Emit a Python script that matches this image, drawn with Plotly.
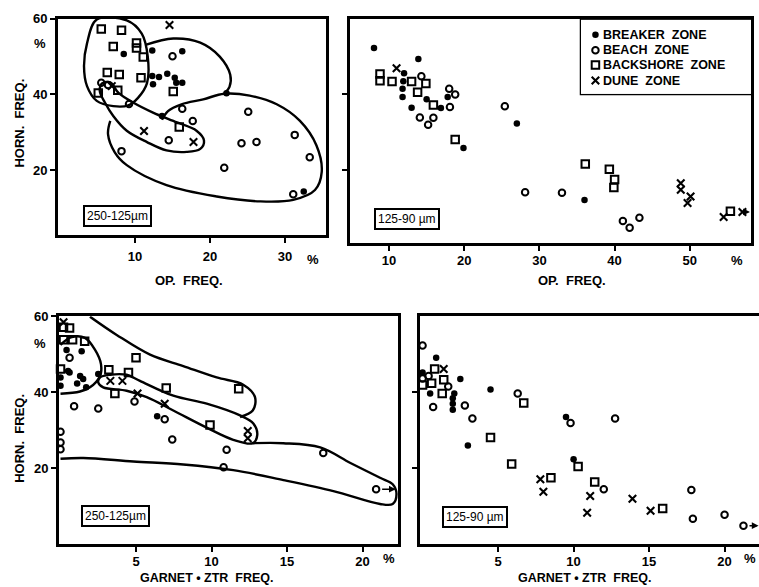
import plotly.graph_objects as go

W, H = 759, 587

# ---------------- data: panel 1 (OP vs HORN, 250-125 um) ----------------
breaker1_x = [8.5, 12.3, 16.3, 12.3, 13.2, 14.3, 12.4, 15.3, 15.5, 16.3, 22.2, 13.6, 32.5]
breaker1_y = [50.7, 51.6, 51.4, 44.9, 44.6, 45.5, 42.7, 44.4, 43.1, 43.1, 40.3, 34.3, 14.3]
beach1_x = [15.0, 16.3, 17.7, 9.2, 14.5, 8.2, 25.1, 24.2, 26.2, 21.9, 31.3, 33.3, 31.1, 5.5, 6.4]
beach1_y = [50.1, 36.2, 33.0, 37.5, 27.9, 25.0, 35.4, 27.1, 27.4, 20.6, 29.3, 23.4, 13.6, 43.1, 42.5]
backshore1_x = [5.5, 8.2, 7.1, 10.2, 10.2, 11.1, 6.3, 7.9, 10.8, 5.1, 7.7, 15.1, 15.9]
backshore1_y = [57.3, 57.0, 52.7, 53.6, 52.3, 49.9, 45.8, 45.3, 44.4, 40.4, 41.1, 40.8, 31.4]
dune1_x = [14.6, 11.2, 17.8, 6.9]
dune1_y = [58.4, 30.3, 27.4, 42.2]

# ---------------- data: panel 2 (OP vs HORN, 125-90 um) ----------------
breaker2_x = [8.0, 13.9, 12.0, 11.9, 11.8, 11.8, 13.0, 15.0, 16.9, 17.8, 27.0, 19.9, 36.0]
breaker2_y = [52.3, 49.4, 45.6, 43.5, 41.5, 39.3, 36.5, 38.7, 36.4, 39.3, 32.3, 25.8, 12.1]
beach2_x = [14.3, 18.0, 18.8, 18.1, 14.1, 15.9, 15.2, 25.4, 28.1, 33.0, 41.1, 42.0, 43.3]
beach2_y = [44.8, 41.5, 40.0, 36.7, 33.9, 33.8, 32.0, 36.9, 14.1, 14.0, 6.5, 4.7, 7.4]
backshore2_x = [8.8, 8.8, 10.4, 13.0, 14.9, 13.8, 15.9, 18.8, 36.1, 39.3, 40.0, 39.9, 55.4]
backshore2_y = [45.4, 43.6, 43.4, 43.4, 42.9, 40.6, 37.2, 28.1, 21.6, 20.2, 17.5, 15.4, 9.1]
dune2_x = [11.0, 48.8, 48.8, 50.1, 49.7, 54.5, 57.0]
dune2_y = [46.9, 16.5, 14.8, 13.0, 11.3, 7.6, 8.9]

# ---------------- data: panel 3 (Garnet+ZTR vs HORN, 250-125 um) ----------------
breaker3_x = [0.4, 1.4, 0.5, 0.6, 0.0, 0.0, 1.3, 1.5, 1.1, 1.7, 2.5, 6.4]
breaker3_y = [51.1, 50.8, 45.6, 45.2, 43.9, 41.7, 44.3, 43.5, 42.3, 41.3, 44.8, 33.7]
beach3_x = [0.6, 0.9, 2.5, 0.0, 0.0, 0.0, 4.9, 6.9, 7.4, 11.0, 10.8, 17.4, 20.9]
beach3_y = [49.1, 36.3, 35.7, 29.6, 26.8, 25.0, 37.6, 32.9, 27.6, 24.9, 20.3, 24.0, 14.5]
backshore3_x = [0.2, 0.6, 0.2, 0.8, 1.6, 0.0, 3.2, 4.5, 3.6, 7.0, 5.0, 11.8, 9.9]
backshore3_y = [57.1, 56.9, 53.8, 53.8, 53.4, 46.1, 45.9, 45.2, 39.7, 41.1, 49.1, 40.9, 31.4]
dune3_x = [0.2, 3.3, 4.1, 5.1, 6.9, 12.4, 12.4]
dune3_y = [58.4, 43.0, 43.0, 39.7, 37.0, 29.8, 27.9]

# ---------------- data: panel 4 (Garnet+ZTR vs HORN, 125-90 um) ----------------
breaker4_x = [0.9, 0.0, 0.5, 2.1, 2.0, 2.0, 2.0, 2.5, 4.5, 3.0, 9.5, 10.0]
breaker4_y = [49.1, 45.2, 39.7, 39.7, 38.4, 37.0, 35.4, 43.5, 40.7, 26.0, 33.5, 22.4]
beach4_x = [0.0, 0.4, 0.0, 1.7, 0.7, 2.8, 3.3, 6.3, 9.8, 12.75, 12.0, 17.8, 17.9, 20.0, 21.25]
beach4_y = [52.3, 44.3, 43.6, 41.5, 36.1, 36.5, 33.1, 39.7, 31.9, 33.1, 14.5, 14.3, 6.7, 7.8, 4.9]
backshore4_x = [0.8, 0.0, 0.6, 1.4, 1.3, 6.7, 4.5, 5.9, 10.3, 8.5, 11.4, 15.9]
backshore4_y = [46.1, 41.9, 42.4, 43.3, 39.7, 37.2, 28.1, 21.1, 20.5, 17.5, 16.4, 9.4]
dune4_x = [1.4, 7.8, 8.0, 11.1, 10.9, 13.9, 15.1]
dune4_y = [46.1, 17.1, 13.8, 12.7, 8.3, 12.0, 8.8]

# ---------------- envelopes (hand-drawn zone outlines) ----------------
env1_back_x = [4.9, 8.9, 10.9, 11.7, 11.6, 10.4, 9.1, 7.1, 4.9, 3.6, 3.2, 3.6, 4.9]
env1_back_y = [59.8, 59.6, 56.1, 50.0, 43.0, 39.1, 37.1, 36.9, 38.3, 42.2, 47.4, 53.5, 59.8]
env1_break_x = [11.4, 15.1, 18.7, 21.3, 22.7, 22.6, 21.9]
env1_break_y = [53.1, 54.8, 53.7, 50.0, 45.2, 42.0, 40.2]
env1_beach_x = [13.6, 14.4, 16.2, 19.1, 21.9, 25.3, 28.9, 32.0, 34.2, 34.9, 34.0, 31.1, 26.7,
                20.9, 14.2, 8.9, 7.3, 6.4, 6.7]
env1_beach_y = [33.3, 35.6, 37.4, 38.7, 40.2, 39.7, 37.4, 33.0, 26.5, 19.5, 14.7, 12.1, 11.7,
                13.0, 16.0, 21.3, 24.7, 29.5, 33.0]
env1_dune_x = [5.6, 6.7, 7.8, 9.8, 12.4, 15.6, 18.2, 19.2, 18.7, 16.9, 14.2, 11.6, 8.9, 7.1,
               6.0, 5.3, 5.6]
env1_dune_y = [42.9, 43.2, 40.4, 37.8, 35.2, 32.6, 30.4, 27.8, 25.6, 24.8, 25.2, 27.4, 30.4,
               34.3, 37.8, 40.9, 42.9]

env3_back_x = [1.95, 3.72, 5.93, 8.13, 10.34, 12.1, 12.88, 12.73, 11.89]
env3_back_y = [59.9, 55.1, 49.9, 46.9, 43.9, 42.0, 38.7, 35.2, 33.5]
env3_dune_x = [2.62, 3.28, 4.38, 5.26, 7.47, 9.68, 11.89, 12.77, 13.03, 12.73, 11.44, 9.68,
               7.47, 5.71, 4.38, 2.83, 2.50, 2.62]
env3_dune_y = [43.9, 44.6, 44.6, 43.0, 39.1, 37.0, 33.9, 31.8, 28.8, 26.6, 27.5, 30.7,
               35.2, 38.7, 40.4, 41.3, 42.6, 43.9]
env3_break_x = [0.0, 0.74, 1.62, 2.28, 2.68, 2.62, 1.95, 1.29, 0.0]
env3_break_y = [52.5, 54.5, 54.3, 51.2, 47.4, 44.3, 41.3, 40.2, 39.6]
env3_beach_x = [12.73, 14.76, 17.2, 19.2, 21.16, 22.0, 22.25, 22.0, 21.16, 18.07, 14.76,
                11.44, 8.13, 4.82, 1.51, 0.0]
env3_beach_y = [26.6, 26.6, 25.5, 21.4, 17.5, 15.8, 13.2, 10.6, 10.6, 14.0, 16.9,
                19.5, 21.0, 21.8, 22.7, 22.5]

zones = ["BREAKER  ZONE", "BEACH  ZONE", "BACKSHORE  ZONE", "DUNE  ZONE"]
size_labels = ["250-125µm", "125-90 µm", "250-125µm", "125-90 µm"]
op_ticks = [10, 20, 30, 40, 50]
gz_ticks = [5, 10, 15, 20]
horn_ticks = [20, 40, 60]

FONT = "Liberation Sans"
BLK = "black"

def px2x(p):
    return p / W

def py2y(p):
    return 1 - p / H

fig = go.Figure()

styles = [
    dict(symbol="circle", size=6.5, color=BLK),
    dict(symbol="circle-open", size=6.5, color=BLK, line=dict(width=2, color=BLK)),
    dict(symbol="square-open", size=7.5, color=BLK, line=dict(width=2, color=BLK)),
    dict(symbol="x-thin-open", size=7.5, color=BLK, line=dict(width=2.1, color=BLK)),
]

panels = [
    ("x", "y", [(breaker1_x, breaker1_y), (beach1_x, beach1_y), (backshore1_x, backshore1_y), (dune1_x, dune1_y)]),
    ("x2", "y2", [(breaker2_x, breaker2_y), (beach2_x, beach2_y), (backshore2_x, backshore2_y), (dune2_x, dune2_y)]),
    ("x3", "y3", [(breaker3_x, breaker3_y), (beach3_x, beach3_y), (backshore3_x, backshore3_y), (dune3_x, dune3_y)]),
    ("x4", "y4", [(breaker4_x, breaker4_y), (beach4_x, beach4_y), (backshore4_x, backshore4_y), (dune4_x, dune4_y)]),
]

envelopes = [
    ("x", "y", env1_back_x, env1_back_y),
    ("x", "y", env1_break_x, env1_break_y),
    ("x", "y", env1_beach_x, env1_beach_y),
    ("x", "y", env1_dune_x, env1_dune_y),
    ("x3", "y3", env3_back_x, env3_back_y),
    ("x3", "y3", env3_dune_x, env3_dune_y),
    ("x3", "y3", env3_break_x, env3_break_y),
    ("x3", "y3", env3_beach_x, env3_beach_y),
]
for xa, ya, ex, ey in envelopes:
    fig.add_trace(go.Scatter(x=ex, y=ey, xaxis=xa, yaxis=ya, mode="lines",
                             line=dict(color=BLK, width=2.4, shape="spline", smoothing=1.0),
                             showlegend=False, hoverinfo="skip", cliponaxis=True))

for xa, ya, series in panels:
    for (sx, sy), st, name in zip(series, styles, zones):
        fig.add_trace(go.Scatter(x=sx, y=sy, xaxis=xa, yaxis=ya, mode="markers",
                                 marker=st, name=name, showlegend=False, cliponaxis=False))

# legend markers on a hidden helper axis
leg_rows = [0.80, 0.59, 0.39, 0.18]
for st, name, ry in zip(styles, zones, leg_rows):
    fig.add_trace(go.Scatter(x=[0.085], y=[ry], xaxis="x5", yaxis="y5", mode="markers",
                             marker=st, showlegend=False, hoverinfo="skip"))

axis_common = dict(showgrid=False, zeroline=False, showline=True, linecolor=BLK, linewidth=3,
                   ticks="outside", ticklen=5, tickwidth=2, tickcolor=BLK,
                   tickfont=dict(family=FONT, size=13, color=BLK, weight="bold"))

# panel pixel boxes
p1 = (58, 326, 12, 231)
p2 = (350, 751, 12, 239)
p3 = (59, 398, 313, 543)
p4 = (420, 759, 313, 543)

def dom(p):
    return [px2x(p[0]), px2x(p[1])], [py2y(p[3]), py2y(p[2])]

d1x, d1y = dom(p1)
d2x, d2y = dom(p2)
d3x, d3y = dom(p3)
d4x, d4y = dom(p4)

fig.update_layout(
    width=W, height=H, margin=dict(l=0, r=0, t=0, b=0),
    paper_bgcolor="white", plot_bgcolor="white", showlegend=False,
    xaxis=dict(domain=d1x, range=[-0.27, 35.47], tickvals=op_ticks[:3], mirror=True,
               anchor="y", ticklabelstandoff=2, **axis_common),
    yaxis=dict(domain=d1y, range=[2.74, 60.0], tickvals=horn_ticks, mirror=True,
               anchor="x", **axis_common),
    xaxis2=dict(domain=d2x, range=[4.81, 58.14], tickvals=op_ticks, mirror=True,
                anchor="y2", ticklabelstandoff=-2, **axis_common),
    yaxis2=dict(domain=d2y, range=[0.65, 60.0], tickvals=horn_ticks[:2], mirror=True,
                showticklabels=False, anchor="x2", **axis_common),
    xaxis3=dict(domain=d3x, range=[-0.1, 22.35], tickvals=gz_ticks, mirror=True,
                anchor="y3", ticklabelstandoff=-1, **axis_common),
    yaxis3=dict(domain=d3y, range=[0.2, 60], tickvals=horn_ticks, mirror=True,
                anchor="x3", **axis_common),
    xaxis4=dict(domain=d4x, range=[-0.17, 22.28], tickvals=gz_ticks, mirror=True,
                anchor="y4", ticklabelstandoff=-1, **axis_common),
    yaxis4=dict(domain=d4y, range=[0.2, 60], tickvals=horn_ticks[:2], mirror=False,
                showticklabels=False, anchor="x4", **axis_common),
    xaxis5=dict(domain=[px2x(581), px2x(751)], range=[0, 1], visible=False, anchor="y5"),
    yaxis5=dict(domain=[py2y(88), py2y(13)], range=[0, 1], visible=False, anchor="x5"),
)

ann = []
def text(px, py, s, size=13, xanchor="center", angle=0):
    ann.append(dict(x=px2x(px), y=py2y(py), xref="paper", yref="paper", text="<b>%s</b>" % s,
                    showarrow=False, xanchor=xanchor, yanchor="middle", textangle=angle,
                    font=dict(family=FONT, size=size, color=BLK)))

# axis titles
text(189, 277, "OP.  FREQ.")
text(572, 277, "OP.  FREQ.")
text(207, 578, "GARNET • ZTR  FREQ.", size=12.5)
text(585, 578, "GARNET • ZTR  FREQ.", size=12.5)
text(20, 118, "HORN.  FREQ.", angle=-90)
text(20, 437, "HORN.  FREQ.", angle=-90)
# percent signs
text(40, 37, "%")
text(40, 341, "%")
text(313, 256, "%")
text(737, 257, "%")
text(389, 558, "%")
text(750, 558, "%")

# size-fraction boxes
for (cx, cy), lab in zip([(117, 212), (407, 215), (115, 515), (475, 516)], size_labels):
    ann.append(dict(x=px2x(cx), y=py2y(cy), xref="paper", yref="paper", text=lab,
                    showarrow=False, xanchor="center", yanchor="middle",
                    font=dict(family=FONT, size=12, color=BLK),
                    bordercolor=BLK, borderwidth=2, borderpad=2, bgcolor="white"))

# legend text
for name, ry in zip(zones, leg_rows):
    ann.append(dict(x=0.115, y=ry, xref="x5", yref="y5", text="<b>%s</b>" % name,
                    showarrow=False, xanchor="left", yanchor="middle",
                    font=dict(family=FONT, size=12.5, color=BLK)))

# off-scale arrows
for xa, ya, x0, x1, yv in [("x3", "y3", beach3_x[-1] + 0.3, 22.2, beach3_y[-1]),
                           ("x4", "y4", beach4_x[-1] + 0.3, 22.25, beach4_y[-1]),
                           ("x2", "y2", dune2_x[-1] + 0.4, 58.0, dune2_y[-1])]:
    ann.append(dict(x=x1, y=yv, ax=x0, ay=yv, xref=xa, yref=ya, axref=xa, ayref=ya,
                    text="", showarrow=True, arrowhead=2, arrowsize=0.9, arrowwidth=1.5,
                    arrowcolor=BLK))

fig.update_layout(annotations=ann)

# legend box
fig.add_shape(type="rect", xref="paper", yref="paper", x0=px2x(581), x1=px2x(751),
              y0=py2y(88), y1=py2y(13), line=dict(color=BLK, width=2.5),
              fillcolor="white", layer="below")

fig.write_html("out.html", config={"displayModeBar": False},
               post_script="document.body.style.margin='0';document.body.style.padding='0';"
                           "document.body.style.overflow='hidden';")
